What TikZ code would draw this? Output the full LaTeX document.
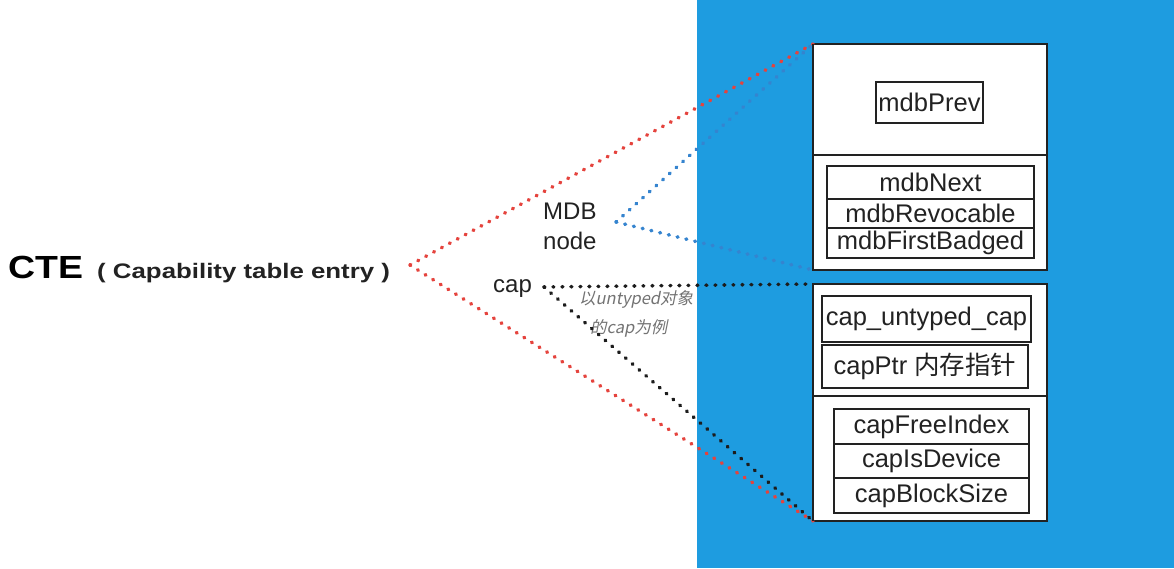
\documentclass[tikz,border=0pt]{standalone}
\usepackage{fontspec}
\setmainfont{Liberation Sans}
\newfontfamily\cjk{Noto Sans CJK SC}
\newfontfamily\cjkit[FakeSlant=0.2]{Noto Sans CJK SC}
\definecolor{bgblue}{HTML}{1E9CE0}
\definecolor{dotred}{HTML}{E5433D}
\definecolor{dotblue}{HTML}{3584CF}
\definecolor{dotblack}{HTML}{1C1C1C}
\definecolor{txt}{HTML}{222222}
\tikzset{
  outerbox/.style={draw=txt, line width=1.8pt, fill=white, inner sep=0pt, outer sep=0pt, anchor=north west},
  fieldbox/.style={draw=txt, line width=1.3pt, fill=white, inner sep=0pt, outer sep=0pt, text=txt,
    font=\fontsize{25.5}{28}\selectfont},
  dotline/.style={dash pattern=on 0.8pt off 8.2pt, line cap=round, line width=3.6pt},
  lbl/.style={text=txt, inner sep=0pt, font=\fontsize{24}{30}\selectfont},
  note/.style={text=black!55, inner sep=0pt, font=\fontsize{16.5}{20}\cjkit},
}
\begin{document}
\begin{tikzpicture}[x=1pt,y=-1pt]
\useasboundingbox (0,0) rectangle (1174,568);
\fill[white] (0,0) rectangle (1174,568);
\fill[bgblue] (697,0) rectangle (1174,568);

% outer boxes
\node[outerbox, minimum width=234pt, minimum height=111pt] (b1) at (813,44) {};
\node[outerbox, minimum width=234pt, minimum height=115pt] (b2) at (813,155) {};
\node[outerbox, minimum width=234pt, minimum height=112pt] (b3) at (813,284) {};
\node[outerbox, minimum width=234pt, minimum height=125pt] (b4) at (813,396) {};

% fields
\node[fieldbox, minimum width=107pt, minimum height=41pt] (prev) at (929.5,102.5) {mdbPrev};
\node[fieldbox, minimum width=207pt, minimum height=33pt] (next) at (930.5,182.5) {mdbNext};
\node[fieldbox, minimum width=207pt, minimum height=29pt] (revo) at (930.5,213.5) {mdbRevocable};
\node[fieldbox, minimum width=207pt, minimum height=30pt] (first) at (930.5,243) {mdbFirstBadged};
\node[fieldbox, minimum width=209pt, minimum height=46pt] (ucap) at (926.5,319) {cap\_untyped\_cap};
\node[fieldbox, minimum width=206pt, minimum height=43pt] (ptr) at (925,366.5) {capPtr {\cjk 内存指针}};
\node[fieldbox, minimum width=195pt, minimum height=35pt] (free) at (931.5,426.5) {capFreeIndex};
\node[fieldbox, minimum width=195pt, minimum height=34pt] (dev) at (931.5,461) {capIsDevice};
\node[fieldbox, minimum width=195pt, minimum height=35pt] (size) at (931.5,495.5) {capBlockSize};

% labels
\node[anchor=base west, inner sep=0pt, text=black, font=\fontsize{32}{36}\selectfont\bfseries] (cte) at (8,278) {\scalebox{1.17}[1]{CTE}};
\node[anchor=base west, inner sep=0pt, text=txt, font=\fontsize{21}{24}\selectfont\bfseries] (ctefull) at (97,278) {\scalebox{1.23}[1]{( Capability table entry )}};
\node[lbl, anchor=west, align=left] (mdb) at (543,226.4) {MDB\\node};
\node[lbl, anchor=base west] (cap) at (493,292) {cap};
\node[note, anchor=west] (n1) at (579,299) {以untyped对象};
\node[note, anchor=west] (n2) at (590,328) {的cap为例};

% source points
\coordinate (cteP) at (410,265);
\coordinate (mdbP) at (616,222);
\coordinate (capP) at (544,287);

% connectors
\draw[dotline, dotred] (cteP) -- (b1.north west);
\draw[dotline, dotred] (cteP) -- (b4.south west);
\draw[dotline, dotblue] (mdbP) -- (b1.north west);
\draw[dotline, dotblue] (mdbP) -- (b2.south west);
\draw[dotline, dotblack] (capP) -- (b3.north west);
\draw[dotline, dotblack] (capP) -- (b4.south west);

% redraw boxes' west borders over line ends
\draw[txt, line width=1.8pt] (b1.north west) -- (b1.south west) (b2.north west) -- (b2.south west)
  (b3.north west) -- (b3.south west) (b4.north west) -- (b4.south west);
\end{tikzpicture}
\end{document}
